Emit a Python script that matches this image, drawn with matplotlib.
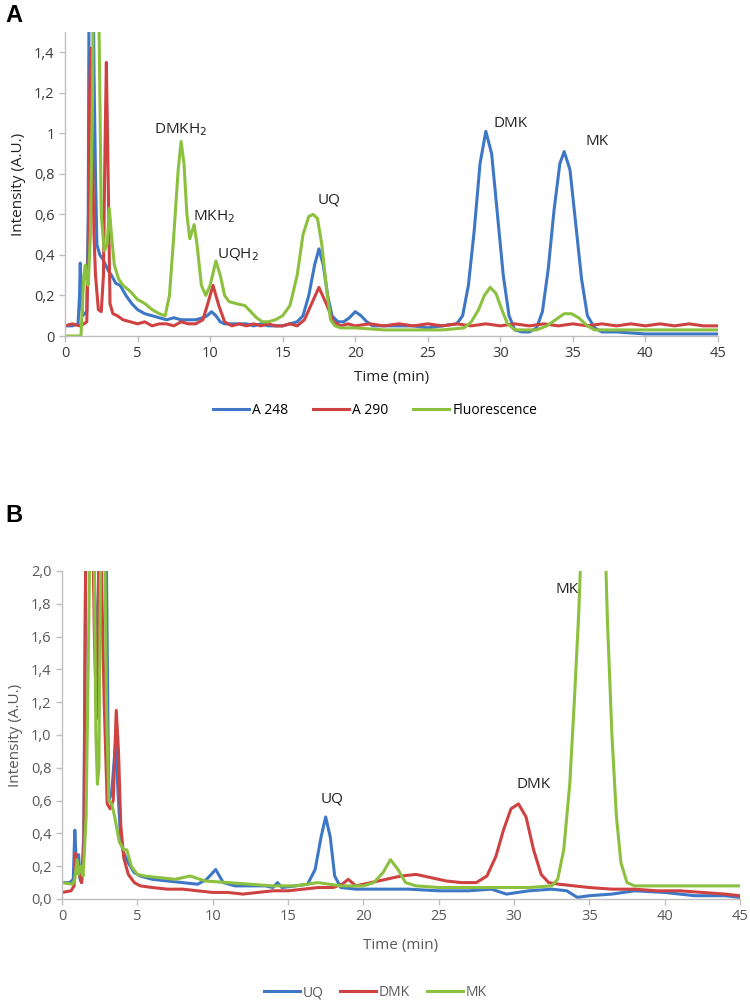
import matplotlib
matplotlib.use('Agg')
import matplotlib.pyplot as plt

plt.rcParams['font.family'] = ['Open Sans', 'DejaVu Sans']

# ---- panel A: HPLC traces (time in min, intensity in A.U.)
a248_t = [0, 0.5, 0.9, 1.0, 1.05, 1.12, 1.2, 1.5, 1.6, 1.7, 1.85, 2.0, 2.1, 2.2, 2.4, 2.6, 2.8, 3.0, 3.2, 3.5,
          3.8, 4.2, 4.6, 5.0, 5.5, 6.0, 6.5, 7.0, 7.5, 8.0, 8.5, 9.0, 9.5, 9.8, 10.1, 10.4, 10.7, 11.0, 11.5,
          12.0, 12.5, 13.0, 13.5, 14.0, 14.5, 15.0, 15.5, 16.0, 16.4, 16.8, 17.2, 17.5, 17.8, 18.1, 18.4, 18.8,
          19.2, 19.6, 20.0, 20.4, 20.8, 21.2, 22, 23, 24, 25, 26, 27.0, 27.4, 27.8, 28.2, 28.6, 29.0, 29.4,
          29.8, 30.2, 30.6, 31.0, 31.5, 32.0, 32.5, 32.9, 33.3, 33.7, 34.1, 34.4, 34.8, 35.2, 35.6, 36.0,
          36.5, 37.0, 38, 40, 42, 45]
a248_v = [0.05, 0.05, 0.06, 0.2, 0.36, 0.2, 0.1, 0.12, 0.6, 2.5, 2.5, 1.3, 0.8, 0.45, 0.4, 0.38, 0.35, 0.32,
          0.3, 0.26, 0.25, 0.2, 0.16, 0.13, 0.11, 0.1, 0.09, 0.08, 0.09, 0.08, 0.08, 0.08, 0.09, 0.1, 0.12,
          0.1, 0.07, 0.06, 0.06, 0.06, 0.06, 0.05, 0.06, 0.05, 0.05, 0.05, 0.06, 0.07, 0.1, 0.2, 0.35, 0.43,
          0.35, 0.2, 0.1, 0.07, 0.07, 0.09, 0.12, 0.1, 0.07, 0.05, 0.05, 0.05, 0.05, 0.04, 0.05, 0.06, 0.1,
          0.25, 0.52, 0.85, 1.01, 0.9, 0.6, 0.3, 0.1, 0.03, 0.02, 0.02, 0.04, 0.12, 0.33, 0.62, 0.85, 0.91,
          0.82, 0.55, 0.28, 0.1, 0.04, 0.02, 0.02, 0.01, 0.01, 0.01]

a290_t = [0, 0.5, 1.0, 1.3, 1.5, 1.6, 1.7, 1.78, 1.9, 2.0, 2.1, 2.3, 2.5, 2.65, 2.75, 2.85, 2.95, 3.1, 3.3,
          3.6, 4.0, 4.5, 5.0, 5.5, 6.0, 6.5, 7.0, 7.5, 8.0, 8.5, 9.0, 9.5, 9.8, 10.2, 10.6, 11.0, 11.5, 12.0,
          12.5, 13.0, 13.5, 14.0, 14.5, 15.0, 15.5, 16.0, 16.5, 17.0, 17.5, 18.0, 18.5, 19.0, 19.5, 20.0, 21,
          22, 23, 24, 25, 26, 27, 28, 29, 30, 31, 32, 33, 34, 35, 36, 37, 38, 39, 40, 41, 42, 43, 44, 45]
a290_v = [0.05, 0.06, 0.05, 0.06, 0.07, 0.4, 1.2, 1.42, 0.9, 0.5, 0.3, 0.13, 0.12, 0.3, 0.9, 1.35, 0.9,
          0.16, 0.11, 0.1, 0.08, 0.07, 0.06, 0.07, 0.05, 0.06, 0.06, 0.05, 0.07, 0.06, 0.06, 0.08, 0.15,
          0.25, 0.15, 0.07, 0.05, 0.06, 0.05, 0.06, 0.05, 0.06, 0.05, 0.05, 0.06, 0.05, 0.08, 0.16, 0.24,
          0.16, 0.07, 0.05, 0.06, 0.05, 0.06, 0.05, 0.06, 0.05, 0.06, 0.05, 0.06, 0.05, 0.06, 0.05, 0.06,
          0.05, 0.06, 0.05, 0.06, 0.05, 0.06, 0.05, 0.06, 0.05, 0.06, 0.05, 0.06, 0.05, 0.05]

fluo_t = [0, 1.1, 1.2, 1.3, 1.4, 1.5, 1.6, 1.75, 1.9, 2.0, 2.2, 2.35, 2.5, 2.7, 2.9, 3.05, 3.2, 3.4, 3.7, 4.0,
          4.5, 5.0, 5.5, 6.0, 6.5, 6.9, 7.2, 7.5, 7.8, 8.0, 8.2, 8.4, 8.6, 8.9, 9.1, 9.4, 9.7, 10.0, 10.4,
          10.7, 11.0, 11.3, 11.8, 12.4, 12.8, 13.2, 13.6, 14.0, 14.5, 15.0, 15.5, 16.0, 16.4, 16.8, 17.1,
          17.4, 17.7, 18.0, 18.3, 18.6, 19.0, 20, 22, 24, 26, 27.5, 28.0, 28.5, 28.9, 29.3, 29.7, 30.1, 30.5,
          31.0, 31.5, 32.5, 33.2, 33.8, 34.4, 34.9, 35.4, 36.0, 36.5, 37.5, 39, 42, 45]
fluo_v = [0.0, 0.0, 0.15, 0.3, 0.35, 0.28, 0.25, 0.5, 1.2, 2.5, 2.5, 1.5, 0.6, 0.42, 0.45, 0.63, 0.5, 0.35,
          0.28, 0.25, 0.22, 0.18, 0.16, 0.13, 0.11, 0.1, 0.2, 0.5, 0.82, 0.96, 0.85, 0.6, 0.48, 0.55, 0.45,
          0.25, 0.2, 0.25, 0.37, 0.3, 0.2, 0.17, 0.16, 0.15, 0.12, 0.09, 0.07, 0.07, 0.08, 0.1, 0.15, 0.3,
          0.5, 0.59, 0.6, 0.58, 0.45, 0.25, 0.08, 0.05, 0.04, 0.04, 0.03, 0.03, 0.03, 0.04, 0.07, 0.13, 0.2,
          0.24, 0.21, 0.13, 0.06, 0.03, 0.03, 0.03, 0.05, 0.08, 0.11, 0.11, 0.09, 0.05, 0.03, 0.03, 0.03,
          0.03, 0.03]

# ---- panel B
uq_t = [0, 0.5, 0.75, 0.85, 0.95, 1.1, 1.2, 1.3, 1.45, 1.6, 2.0, 2.3, 2.6, 2.9, 3.1, 3.3, 3.55, 3.75,
        3.9, 4.1, 4.4, 4.8, 5.2, 6, 7, 8, 9, 9.6, 10.2, 10.7, 11.5, 12.5, 13.5, 14.0, 14.3, 14.6, 15.5, 16.3,
        16.8, 17.2, 17.5, 17.8, 18.1, 18.5, 19.5, 21, 23, 25, 27, 28.5, 29.5, 31, 32.5, 33.5, 34.2, 35, 36.5,
        38, 40, 42, 44, 45]
uq_v = [0.1, 0.1, 0.12, 0.42, 0.22, 0.27, 0.12, 0.1, 0.4, 2.5, 2.5, 1.4, 2.5, 2.5, 0.6, 0.65, 0.95,
        0.6, 0.35, 0.28, 0.22, 0.16, 0.14, 0.12, 0.11, 0.1, 0.09, 0.12, 0.18, 0.1, 0.08, 0.08, 0.08, 0.07,
        0.1, 0.07, 0.08, 0.09, 0.18, 0.38, 0.5, 0.38, 0.14, 0.07, 0.06, 0.06, 0.06, 0.05, 0.05, 0.06, 0.03,
        0.05, 0.06, 0.05, 0.01, 0.02, 0.03, 0.05, 0.04, 0.02, 0.02, 0.01]

dmk_t = [0, 0.6, 0.8, 0.9, 1.0, 1.15, 1.3, 1.45, 1.6, 2.0, 2.15, 2.3, 2.5, 2.8, 3.0, 3.2, 3.4, 3.6, 3.75, 3.9,
         4.1, 4.4, 4.8, 5.2, 6, 7, 8, 9, 10, 11, 12, 13, 14, 15, 16, 17, 18, 18.6, 19.0, 19.5, 20.5, 21.5, 22.5,
         23.5, 24.5, 25.5, 26.5, 27.5, 28.2, 28.8, 29.3, 29.8, 30.3, 30.8, 31.3, 31.8, 32.3, 33.0, 34.0, 35.0,
         36.5, 38, 39.5, 41, 42.5, 44, 45]
dmk_v = [0.04, 0.05, 0.08, 0.28, 0.18, 0.15, 0.1, 0.3, 2.5, 2.5, 1.6, 1.1, 2.5, 1.2, 0.58, 0.55, 0.6, 1.15,
         0.9, 0.45, 0.25, 0.15, 0.1, 0.08, 0.07, 0.06, 0.06, 0.05, 0.04, 0.04, 0.03, 0.04, 0.05, 0.05, 0.06,
         0.07, 0.07, 0.09, 0.12, 0.08, 0.1, 0.12, 0.14, 0.15, 0.13, 0.11, 0.1, 0.1, 0.14, 0.26, 0.42, 0.55,
         0.58, 0.5, 0.3, 0.15, 0.1, 0.09, 0.08, 0.07, 0.06, 0.06, 0.05, 0.05, 0.04, 0.03, 0.02]

mk_t = [0, 0.7, 0.85, 1.0, 1.1, 1.25, 1.4, 1.6, 1.9, 2.1, 2.25, 2.35, 2.45, 2.6, 2.8, 2.95, 3.1, 3.3, 3.5,
        3.8, 4.1, 4.3, 4.6, 5.0, 5.5, 6.5, 7.5, 8.5, 9.5, 11, 12.5, 14, 15.5, 17, 18.5, 20, 20.7, 21.3, 21.8,
        22.3, 22.8, 23.5, 25, 27, 29, 31, 32.5, 32.9, 33.3, 33.7, 34.0, 34.3, 34.6, 35.95, 36.2, 36.5, 36.8,
        37.1, 37.5, 38.0, 39, 41, 43, 45]
mk_v = [0.1, 0.09, 0.12, 0.24, 0.15, 0.2, 0.14, 0.5, 2.5, 2.5, 1.0, 0.7, 0.8, 2.5, 2.5, 1.2, 0.6, 0.58, 0.5,
        0.35, 0.3, 0.3, 0.2, 0.15, 0.14, 0.13, 0.12, 0.14, 0.11, 0.1, 0.09, 0.08, 0.08, 0.1, 0.08, 0.08,
        0.1, 0.16, 0.24, 0.18, 0.1, 0.08, 0.07, 0.07, 0.07, 0.07, 0.08, 0.12, 0.3, 0.7, 1.2, 1.75, 2.5, 2.5,
        1.7, 1.0, 0.5, 0.22, 0.1, 0.08, 0.08, 0.08, 0.08, 0.08]

blue = '#3f77c7'
red = '#cf4242'
green = '#8cc03f'
grey_txt = '#595959'
spine_c = '#bfbfbf'

W, H = 750, 1001
fig = plt.figure(figsize=(W / 100, H / 100), dpi=100)


def px_axes(left, top, right, bottom):
    return fig.add_axes([left / W, 1 - bottom / H, (right - left) / W, (bottom - top) / H])


def style(ax):
    for s in ['top', 'right']:
        ax.spines[s].set_visible(False)
    for s in ['left', 'bottom']:
        ax.spines[s].set_color(spine_c)
        ax.spines[s].set_linewidth(1.0)
    ax.tick_params(colors=spine_c, labelcolor=grey_txt, labelsize=10.5, length=4, width=1)
    ax.set_xlim(0, 45)
    ax.set_xticks(range(0, 46, 5))


# panel A
ax1 = px_axes(65, 32, 718, 336)
style(ax1)
ax1.plot(a248_t, a248_v, color=blue, lw=2.2, label='A 248')
ax1.plot(a290_t, a290_v, color=red, lw=2.2, label='A 290')
ax1.plot(fluo_t, fluo_v, color=green, lw=2.2, label='Fluorescence')
ax1.set_ylim(0, 1.5)
yt = [0, 0.2, 0.4, 0.6, 0.8, 1.0, 1.2, 1.4]
ax1.set_yticks(yt)
ax1.set_yticklabels(['0', '0,2', '0,4', '0,6', '0,8', '1', '1,2', '1,4'])
ax1.tick_params(labelcolor='#3a3a3a')
ax1.set_xlabel('Time (min)', fontsize=11, color='#222222', labelpad=6)
ax1.set_ylabel('Intensity (A.U.)', fontsize=11, color='#222222', labelpad=6)
ax1.legend(loc='upper center', bbox_to_anchor=(0.475, -0.18), ncol=3, frameon=False, fontsize=10,
           handlelength=2.6, handletextpad=0.2, columnspacing=1.8)
for txt, x, y in [('DMKH$_2$', 8.0, 1.02), ('MKH$_2$', 10.3, 0.59), ('UQH$_2$', 11.9, 0.40),
                  ('UQ', 18.2, 0.67), ('DMK', 30.7, 1.05), ('MK', 36.7, 0.96)]:
    ax1.text(x, y, txt, ha='center', va='center', fontsize=11, color='#222222')

# panel B
ax2 = px_axes(62, 571, 740, 899)
style(ax2)
ax2.plot(uq_t, uq_v, color=blue, lw=2.2, label='UQ')
ax2.plot(dmk_t, dmk_v, color=red, lw=2.2, label='DMK')
ax2.plot(mk_t, mk_v, color=green, lw=2.2, label='MK')
ax2.set_ylim(0, 2.0)
yt2 = [i * 0.2 for i in range(11)]
ax2.set_yticks(yt2)
ax2.set_yticklabels([('%.1f' % v).replace('.', ',') for v in yt2])
ax2.set_xlabel('Time (min)', fontsize=11, color=grey_txt, labelpad=10)
ax2.set_ylabel('Intensity (A.U.)', fontsize=11, color=grey_txt, labelpad=6)
leg = ax2.legend(loc='upper center', bbox_to_anchor=(0.462, -0.225), ncol=3, frameon=False, fontsize=10,
                 handlelength=2.6, handletextpad=0.2, columnspacing=1.2)
for t in leg.get_texts():
    t.set_color(grey_txt)
for txt, x, y in [('UQ', 17.9, 0.61), ('DMK', 31.3, 0.70), ('MK', 33.5, 1.89)]:
    ax2.text(x, y, txt, ha='center', va='center', fontsize=11, color='#222222')

fig.text(5 / W, 1 - 16 / H, 'A', fontsize=17, fontweight='bold', family='Liberation Sans', va='center')
fig.text(5 / W, 1 - 516 / H, 'B', fontsize=17, fontweight='bold', family='Liberation Sans', va='center')

fig.savefig('out.png', dpi=100)
